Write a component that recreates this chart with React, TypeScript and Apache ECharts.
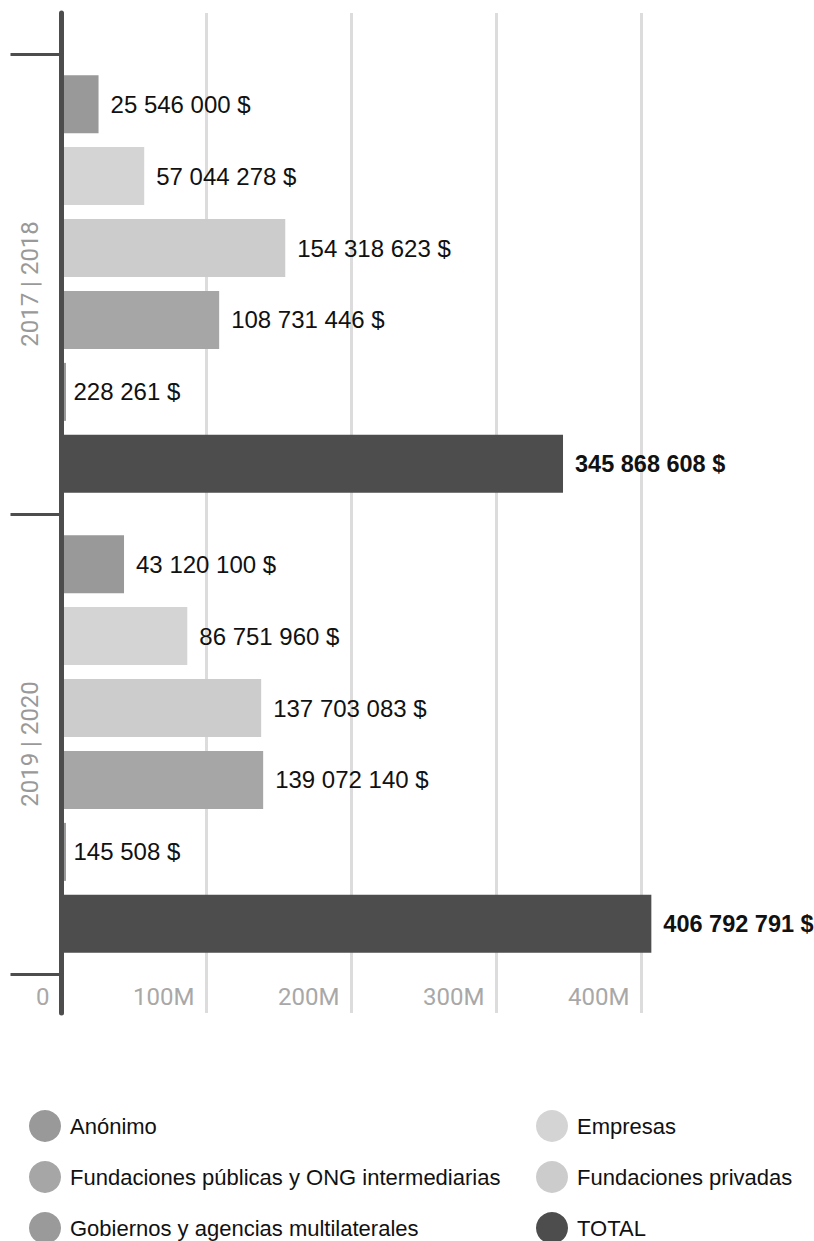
import React, { useEffect, useRef } from "react";
import * as echarts from "echarts";

const categories = ["2017 | 2018", "2019 | 2020"];
const seriesNames = [
  "Anónimo",
  "Empresas",
  "Fundaciones privadas",
  "Fundaciones públicas y ONG intermediarias",
  "Gobiernos y agencias multilaterales",
  "TOTAL",
];
const anonimo = [25546000, 43120100];
const empresas = [57044278, 86751960];
const fundPrivadas = [154318623, 137703083];
const fundPublicas = [108731446, 139072140];
const gobiernos = [228261, 145508];
const total = [345868608, 406792791];
const seriesColors = ["#999999", "#d4d4d4", "#cccccc", "#a6a6a6", "#9a9a9a", "#4d4d4d"];
const xTicks = { min: 0, max: 450000000, interval: 100000000 };
const legendLeftCol = [seriesNames[0], seriesNames[3], seriesNames[4]];
const legendRightCol = [seriesNames[1], seriesNames[2], seriesNames[5]];

const fmt = (v: number) => String(v).replace(/\B(?=(\d{3})+(?!\d))/g, " ") + " $";
const LABEL_FONT = "'Liberation Sans', Arial, Helvetica, sans-serif";
const AXIS_FONT = "Roboto, 'Liberation Sans', sans-serif";

export default function App() {
  const ref = useRef<HTMLDivElement>(null);
  useEffect(() => {
    if (!ref.current) return;
    const chart = echarts.init(ref.current, undefined, { renderer: "svg" });
    const values = [anonimo, empresas, fundPrivadas, fundPublicas, gobiernos, total];
    const series: any[] = values.map((data, i) => {
      const isTotal = i === 5;
      const isTiny = i === 4;
      return {
        name: seriesNames[i],
        type: "bar",
        xAxisIndex: 0,
        yAxisIndex: 0,
        data,
        barWidth: 58,
        barGap: "24%",
        barMinHeight: isTiny ? 4.5 : 0,
        itemStyle: { color: seriesColors[i] },
        label: {
          show: true,
          position: "right",
          distance: isTiny ? 7.5 : 12,
          formatter: (p: any) => fmt(p.value),
          fontFamily: LABEL_FONT,
          fontSize: isTotal ? 23.5 : 24,
          fontWeight: isTotal ? "bold" : "normal",
          color: "#111111",
        },
      };
    });
    const legendBase = {
      orient: "vertical",
      top: 1110,
      height: 160,
      padding: 0,
      icon: "circle",
      itemWidth: 32,
      itemHeight: 32,
      itemGap: 19,
      textStyle: { fontFamily: LABEL_FONT, fontSize: 22, color: "#111111", padding: [0, 0, 0, 4] },
      selectedMode: false,
    };
    chart.setOption({
      animation: false,
      backgroundColor: "#ffffff",
      grid: [
        { left: 61.5, top: 54, width: 652.5, height: 920 },
        { left: 61.5, top: 13, width: 652.5, height: 1000 },
      ],
      xAxis: [
        { type: "value", gridIndex: 0, ...xTicks, show: false },
        {
          type: "value",
          gridIndex: 1,
          ...xTicks,
          axisLine: { show: false },
          axisTick: { show: false },
          splitLine: {
            show: true,
            showMinLine: false,
            showMaxLine: false,
            lineStyle: { color: "#dcdcdc", width: 3 },
          },
          axisLabel: {
            inside: true,
            margin: 4,
            align: "right",
            padding: [0, 12, 0, 0],
            showMaxLabel: false,
            fontFamily: AXIS_FONT,
            fontSize: 24,
            color: "#a8a8a8",
            formatter: (v: number) => (v === 0 ? "0" : v / 1000000 + "M"),
          },
        },
      ],
      yAxis: [
        {
          type: "category",
          gridIndex: 0,
          data: categories,
          inverse: true,
          axisLine: { show: false },
          axisTick: { show: true, length: 51, lineStyle: { color: "#4d4d4d", width: 3 } },
          axisLabel: {
            rotate: 90,
            margin: 20,
            fontFamily: AXIS_FONT,
            fontSize: 24,
            color: "#999999",
          },
          splitLine: { show: false },
        },
        {
          type: "value",
          gridIndex: 1,
          min: 0,
          max: 1,
          z: 10,
          axisLine: { show: true, lineStyle: { color: "#4d4d4d", width: 5 } },
          axisTick: { show: false },
          axisLabel: { show: false },
          splitLine: { show: false },
        },
      ],
      legend: [
        { ...legendBase, left: 29, data: legendLeftCol },
        { ...legendBase, left: 536, data: legendRightCol },
      ],
      series,
    });
    return () => chart.dispose();
  }, []);
  return (
    <div
      ref={ref}
      style={{ position: "fixed", left: 0, top: 0, width: 814, height: 1290, background: "#fff" }}
    />
  );
}
